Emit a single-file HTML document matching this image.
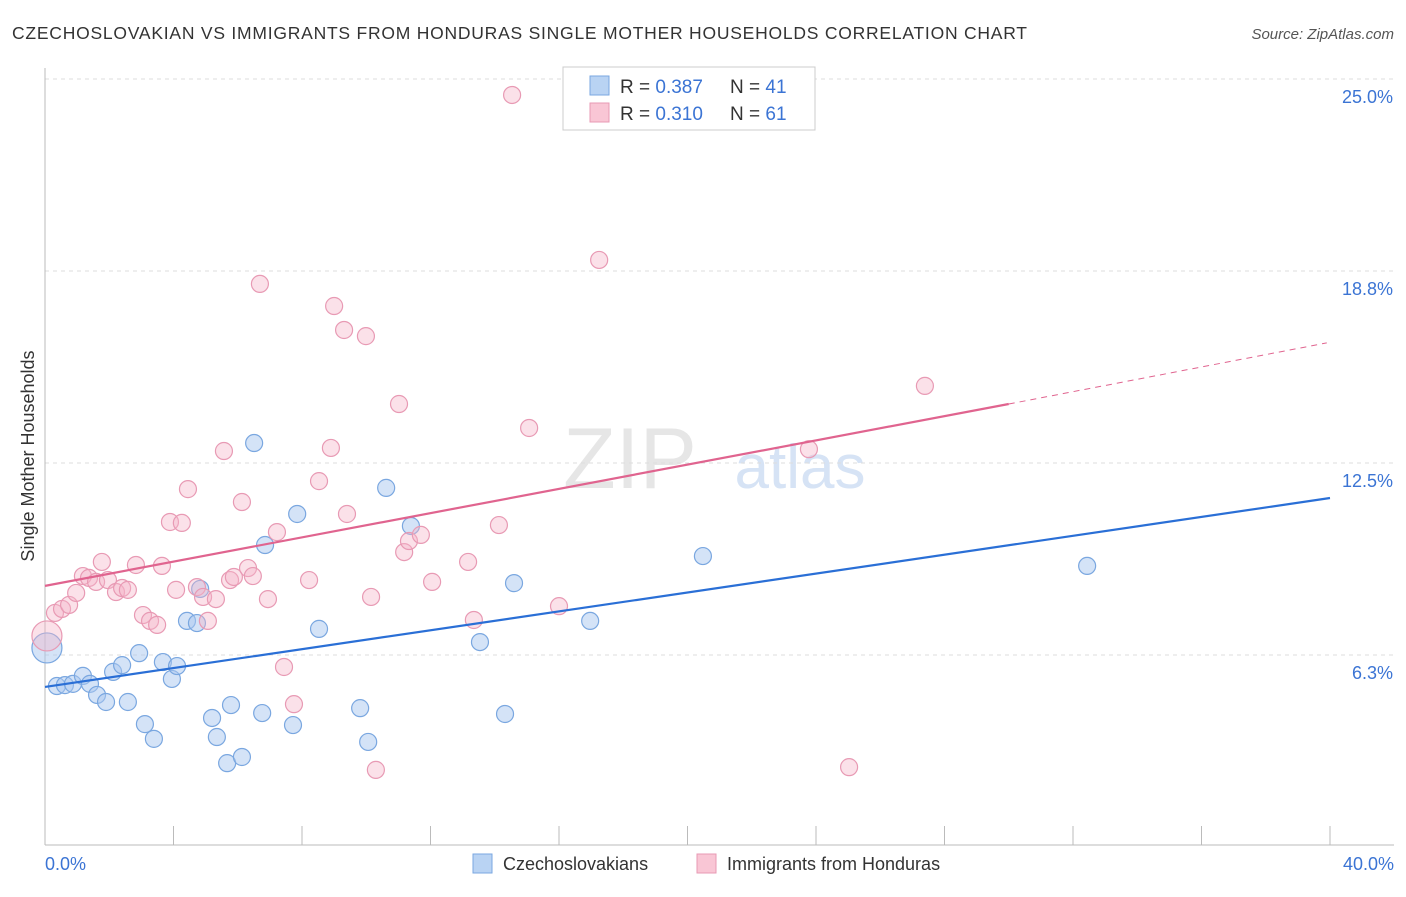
<!DOCTYPE html>
<html><head><meta charset="utf-8"><style>
body{margin:0;background:#fff;font-family:"Liberation Sans",sans-serif}
svg text{font-family:"Liberation Sans",sans-serif}
</style></head><body>
<svg id="chart" width="1406" height="892">
<text x="12" y="39" font-size="17.5" fill="#333" textLength="1015" lengthAdjust="spacing">CZECHOSLOVAKIAN VS IMMIGRANTS FROM HONDURAS SINGLE MOTHER HOUSEHOLDS CORRELATION CHART</text>
<text x="1394" y="39" font-size="15" fill="#555" font-style="italic" text-anchor="end">Source: ZipAtlas.com</text>
<text x="630" y="488" font-size="86" fill="#e6e6e6" font-family="Liberation Serif" text-anchor="middle">ZIP</text>
<text x="800" y="488" font-size="62" fill="#d6e3f5" text-anchor="middle">atlas</text>
<g id="grid"></g><g id="axes"></g><g id="marks"></g>
<text transform="translate(34,456) rotate(-90)" font-size="18" fill="#333" text-anchor="middle">Single Mother Households</text>
<g>
<rect x="563" y="67" width="252" height="63" fill="#fff" stroke="#ccc"/>
<rect x="590" y="76" width="19" height="19" fill="#b9d3f3" stroke="#7aa7e0"/>
<text x="620" y="93" font-size="19" fill="#333">R = <tspan fill="#3b74d4">0.387</tspan><tspan x="730">N = </tspan><tspan fill="#3b74d4">41</tspan></text>
<rect x="590" y="103" width="19" height="19" fill="#f9c6d5" stroke="#e89ab4"/>
<text x="620" y="120" font-size="19" fill="#333">R = <tspan fill="#3b74d4">0.310</tspan><tspan x="730">N = </tspan><tspan fill="#3b74d4">61</tspan></text>
</g>
<g>
<rect x="473" y="854" width="19" height="19" fill="#b9d3f3" stroke="#7aa7e0"/>
<text x="503" y="870" font-size="18" fill="#333">Czechoslovakians</text>
<rect x="697" y="854" width="19" height="19" fill="#f9c6d5" stroke="#e89ab4"/>
<text x="727" y="870" font-size="18" fill="#333">Immigrants from Honduras</text>
</g>
</svg>
<script>
const blueX=[0.06,0.37,0.62,0.87,1.18,1.40,1.62,1.90,2.12,2.40,2.58,2.93,3.11,3.39,3.67,3.95,4.11,4.42,4.73,4.83,5.20,5.35,5.67,5.79,6.13,6.51,6.76,6.85,7.72,7.85,8.53,9.81,10.06,10.62,11.39,13.54,14.32,14.60,16.97,20.48,32.44];
const blueY=[6.48,5.24,5.27,5.31,5.57,5.31,4.95,4.72,5.70,5.92,4.72,6.31,4.00,3.52,6.02,5.47,5.89,7.36,7.29,8.40,4.20,3.58,2.73,4.62,2.93,13.15,4.36,9.83,3.97,10.84,7.10,4.52,3.42,11.69,10.45,6.67,4.33,8.59,7.36,9.47,9.15];
const pinkX=[0.06,0.31,0.53,0.75,0.97,1.18,1.37,1.59,1.77,1.96,2.21,2.40,2.58,2.83,3.05,3.27,3.49,3.64,3.89,4.08,4.26,4.45,4.73,4.92,5.07,5.32,5.57,5.76,5.88,6.13,6.32,6.47,6.69,6.94,7.22,7.44,7.75,8.22,8.53,8.90,9.00,9.31,9.40,9.99,10.15,10.30,11.02,11.18,11.33,11.70,12.05,13.17,13.35,14.13,14.54,15.07,16.00,17.25,23.78,25.03,27.39];
const pinkY=[6.87,7.62,7.75,7.88,8.27,8.82,8.76,8.63,9.28,8.69,8.30,8.43,8.37,9.18,7.55,7.36,7.23,9.15,10.58,8.37,10.55,11.65,8.46,8.14,7.36,8.07,12.89,8.69,8.79,11.23,9.08,8.82,18.33,8.07,10.25,5.86,4.65,8.69,11.91,12.99,17.61,16.83,10.84,16.63,8.14,2.51,14.42,9.60,9.96,10.16,8.63,9.28,7.39,10.48,24.48,13.64,7.84,19.11,12.95,2.60,15.01];
const blueTrend=[5.21,11.36];
const pinkTrend=[8.50,14.42,16.41];
const yTicks=[6.25,12.5,18.75,25.0];
const yTickLabels=["6.3%","12.5%","18.8%","25.0%"];
const xTickLabels=["0.0%","40.0%"];
const NS='http://www.w3.org/2000/svg';
const X=v=>45+v/40*1285, Y=v=>847-v*30.72;
function mk(tag,attrs,parent){const e=document.createElementNS(NS,tag);for(const k in attrs)e.setAttribute(k,attrs[k]);document.getElementById(parent).appendChild(e);return e;}
yTicks.forEach((t,i)=>{
 const g=mk('line',{x1:45,x2:1394,y1:Y(t),y2:Y(t),stroke:'#ddd','stroke-dasharray':'4,4'},'grid');
 
 
 const tx=mk('text',{x:1393,y:Y(t)+24,'font-size':18,fill:'#3b74d4','text-anchor':'end'},'axes');
 tx.textContent=yTickLabels[i];
 
 
});
const ax=mk('line',{x1:45,x2:45,y1:68,y2:845,stroke:'#bbb'},'axes');


const bx=mk('line',{x1:45,x2:1394,y1:845,y2:845,stroke:'#bbb'},'axes');


for(let i=0;i<=10;i++){const t=mk('line',{x1:X(i*4),x2:X(i*4),y1:826,y2:845,stroke:'#bbb'},'axes');
 
 }
[[0,'start',45],[40,'end',1394]].forEach((d,i)=>{const t=mk('text',{x:d[2],y:870,'font-size':18,fill:'#3b74d4','text-anchor':d[1]},'axes');t.textContent=xTickLabels[i];
 
 });
function dots(xs,ys,fill,stroke,name){xs.forEach((x,i)=>{const c=mk('circle',{cx:X(x),cy:Y(ys[i]),r:i===0?15:8.5,fill:fill,stroke:stroke,'stroke-width':1.2},'marks');
 
 });}
dots(blueX,blueY,'rgba(170,200,240,0.5)','#7aa7e0','czechoslovakian-point');
dots(pinkX,pinkY,'rgba(245,180,200,0.4)','#e89ab4','honduras-point');
const bl=mk('line',{x1:X(0),y1:Y(blueTrend[0]),x2:X(40),y2:Y(blueTrend[1]),stroke:'#2a6fd6','stroke-width':2.2},'marks');


const pl=mk('line',{x1:X(0),y1:Y(pinkTrend[0]),x2:X(30),y2:Y(pinkTrend[1]),stroke:'#e0648f','stroke-width':2.2},'marks');


const pd=mk('line',{x1:X(30),y1:Y(pinkTrend[1]),x2:X(39.9),y2:Y(pinkTrend[2]),stroke:'#e0648f','stroke-width':1,'stroke-dasharray':'6,5'},'marks');


</script>
</body></html>
